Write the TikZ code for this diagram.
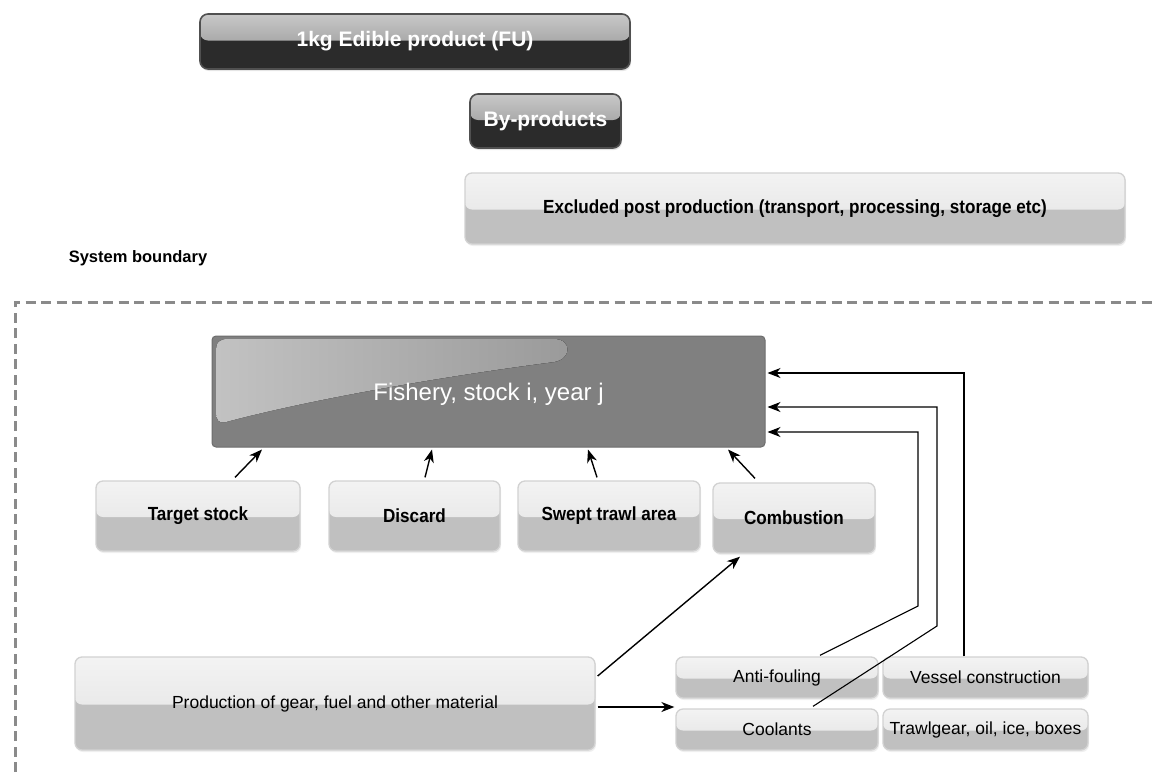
\documentclass[tikz,border=0pt]{standalone}
\usepackage{fontspec}
\setmainfont{Liberation Sans}
\newfontfamily\nbfont{Liberation Sans}[FakeStretch=0.9]
\usetikzlibrary{arrows.meta,shadows,calc}
\definecolor{ltopA}{HTML}{F3F3F3}
\definecolor{ltopB}{HTML}{E1E1E1}
\definecolor{lbot}{HTML}{C0C0C0}
\definecolor{lborder}{HTML}{D2D2D2}
\definecolor{dtopA}{HTML}{C8C8C8}
\definecolor{dtopB}{HTML}{8A8A8A}
\definecolor{dbot}{HTML}{2B2B2B}
\definecolor{dborder}{HTML}{505050}
\definecolor{fishgray}{HTML}{808080}
\definecolor{hlA}{HTML}{C2C2C2}
\definecolor{hlB}{HTML}{9A9A9A}
\definecolor{dashgray}{HTML}{8A8A8A}
\newcommand\bflab{\nbfont\bfseries\fontsize{19}{22}\selectfont}
\newcommand\reglab{\fontsize{17.5}{20}\selectfont}
\newcommand\darklab{\bfseries\fontsize{21}{24}\selectfont}
\begin{document}
\begin{tikzpicture}[x=1pt,y=-1pt,
  lightbox/.style={draw=lborder, line width=1.3pt, rounded corners=7pt, fill=lbot,
    inner sep=0pt, text=black,
    path picture={\fill[top color=ltopA,bottom color=ltopB]
      (path picture bounding box.north west) rectangle ([yshift=-1pt]path picture bounding box.east);},
    drop shadow={opacity=0.12,shadow xshift=1pt,shadow yshift=-2pt}},
  lbold/.style={lightbox, font=\bflab},
  lreg/.style={lightbox, font=\reglab},
  darkbox/.style={draw=dborder, line width=1.6pt, rounded corners=8pt, fill=dbot,
    inner sep=0pt, text=white, font=\darklab,
    path picture={\fill[top color=dtopA,bottom color=dtopB]
      (path picture bounding box.north west) rectangle ([yshift=1pt]path picture bounding box.east);},
    drop shadow={opacity=0.2,shadow xshift=1pt,shadow yshift=-2pt}},
  arr/.style={-{Stealth[length=13pt,width=10pt,inset=4pt]}, line width=1.4pt},
  thinarr/.style={-{Stealth[length=13pt,width=10pt,inset=4pt]}, line width=1.1pt}
]
\useasboundingbox[fill=white] (0,0) rectangle (1152,772);

% top boxes
\node[darkbox, minimum width=430pt, minimum height=55pt] (fu) at (415,41.5) {1kg Edible product (FU)};
\node[darkbox, minimum width=151pt, minimum height=54pt] (byp) at (545.5,121) {By-products};
\node[lbold, minimum width=660pt, minimum height=71pt] (excl) at (795,208.5) {Excluded post production (transport, processing, storage etc)};

% system boundary
\node[font=\bfseries\fontsize{16.5}{19}\selectfont] (sysb) at (138,258) {System boundary};
\draw[dashgray, line width=3pt, dash pattern=on 10pt off 5.5pt] (15,772) -- (15,302) -- (1152,302);

% fishery box
\node[draw=fishgray!85!black, line width=1pt, fill=fishgray, rounded corners=4pt, minimum width=553pt, minimum height=111pt, inner sep=0pt] (fish) at (488.5,391.5) {};
\fill[left color=hlA, right color=hlB] (216,352) .. controls (216,342) and (219,339) .. (228,339) -- (554,339) .. controls (572,339) and (572,359) .. (554,362) .. controls (430,378) and (300,402) .. (226,422) .. controls (219,424) and (216,420) .. (216,412) -- cycle;
\node[text=white, font=\fontsize{24}{28}\selectfont] (fishlab) at ([yshift=-3pt]fish.center) {Fishery, stock i, year j};

% middle row
\node[lbold, minimum width=204pt, minimum height=70pt] (ts) at (198,516) {Target stock};
\node[lbold, minimum width=171pt, minimum height=70pt] (disc) at (414.5,516) {Discard};
\node[lbold, minimum width=182pt, minimum height=70pt] (swept) at (609,516) {Swept trawl area};
\node[lbold, minimum width=162pt, minimum height=70pt] (comb) at (794,518) {Combustion};

% bottom row
\node[lreg, minimum width=520pt, minimum height=93pt] (prod) at (335,703.5) {Production of gear, fuel and other material};
\node[lreg, minimum width=202pt, minimum height=41pt] (anti) at (777,677.5) {Anti-fouling};
\node[lreg, minimum width=205pt, minimum height=41pt] (vessel) at (985.5,677.5) {Vessel construction};
\node[lreg, minimum width=202pt, minimum height=41pt] (cool) at (777,729.5) {Coolants};
\node[lreg, minimum width=205pt, minimum height=41pt] (trawl) at (985.5,729.5) {Trawlgear, oil, ice, boxes};

% arrows into fishery from middle row
\draw[arr] ([xshift=37pt,yshift=3pt]ts.north) -- ([xshift=-226.5pt,yshift=-2pt]fish.south);
\draw[arr] ([xshift=10.5pt,yshift=3pt]disc.north) -- ([xshift=-56.5pt,yshift=-2pt]fish.south);
\draw[arr] ([xshift=-12pt,yshift=3pt]swept.north) -- ([xshift=99.5pt,yshift=-2pt]fish.south);
\draw[arr] ([xshift=-39pt,yshift=4pt]comb.north) -- ([xshift=239.5pt,yshift=-2pt]fish.south);

% production arrows
\draw[arr] ([xshift=2pt,yshift=27.5pt]prod.east) -- ([xshift=-54pt,yshift=-3pt]comb.south);
\draw[arr] ([xshift=2pt,yshift=-3.5pt]prod.east) -- ([xshift=-1pt,yshift=22.5pt]cool.west);

% return lines into fishery
\draw[thinarr] ([xshift=-21.5pt]vessel.north) -- (964,373) -- ([xshift=2pt,yshift=18.5pt]fish.east);
\draw[thinarr] ([xshift=36pt,yshift=2pt]cool.north) -- (937,626) -- (937,407) -- ([xshift=2pt,yshift=-15.5pt]fish.east);
\draw[thinarr] ([xshift=43pt,yshift=1pt]anti.north) -- (918,606) -- (918,432) -- ([xshift=2pt,yshift=-40.5pt]fish.east);
\end{tikzpicture}
\end{document}
